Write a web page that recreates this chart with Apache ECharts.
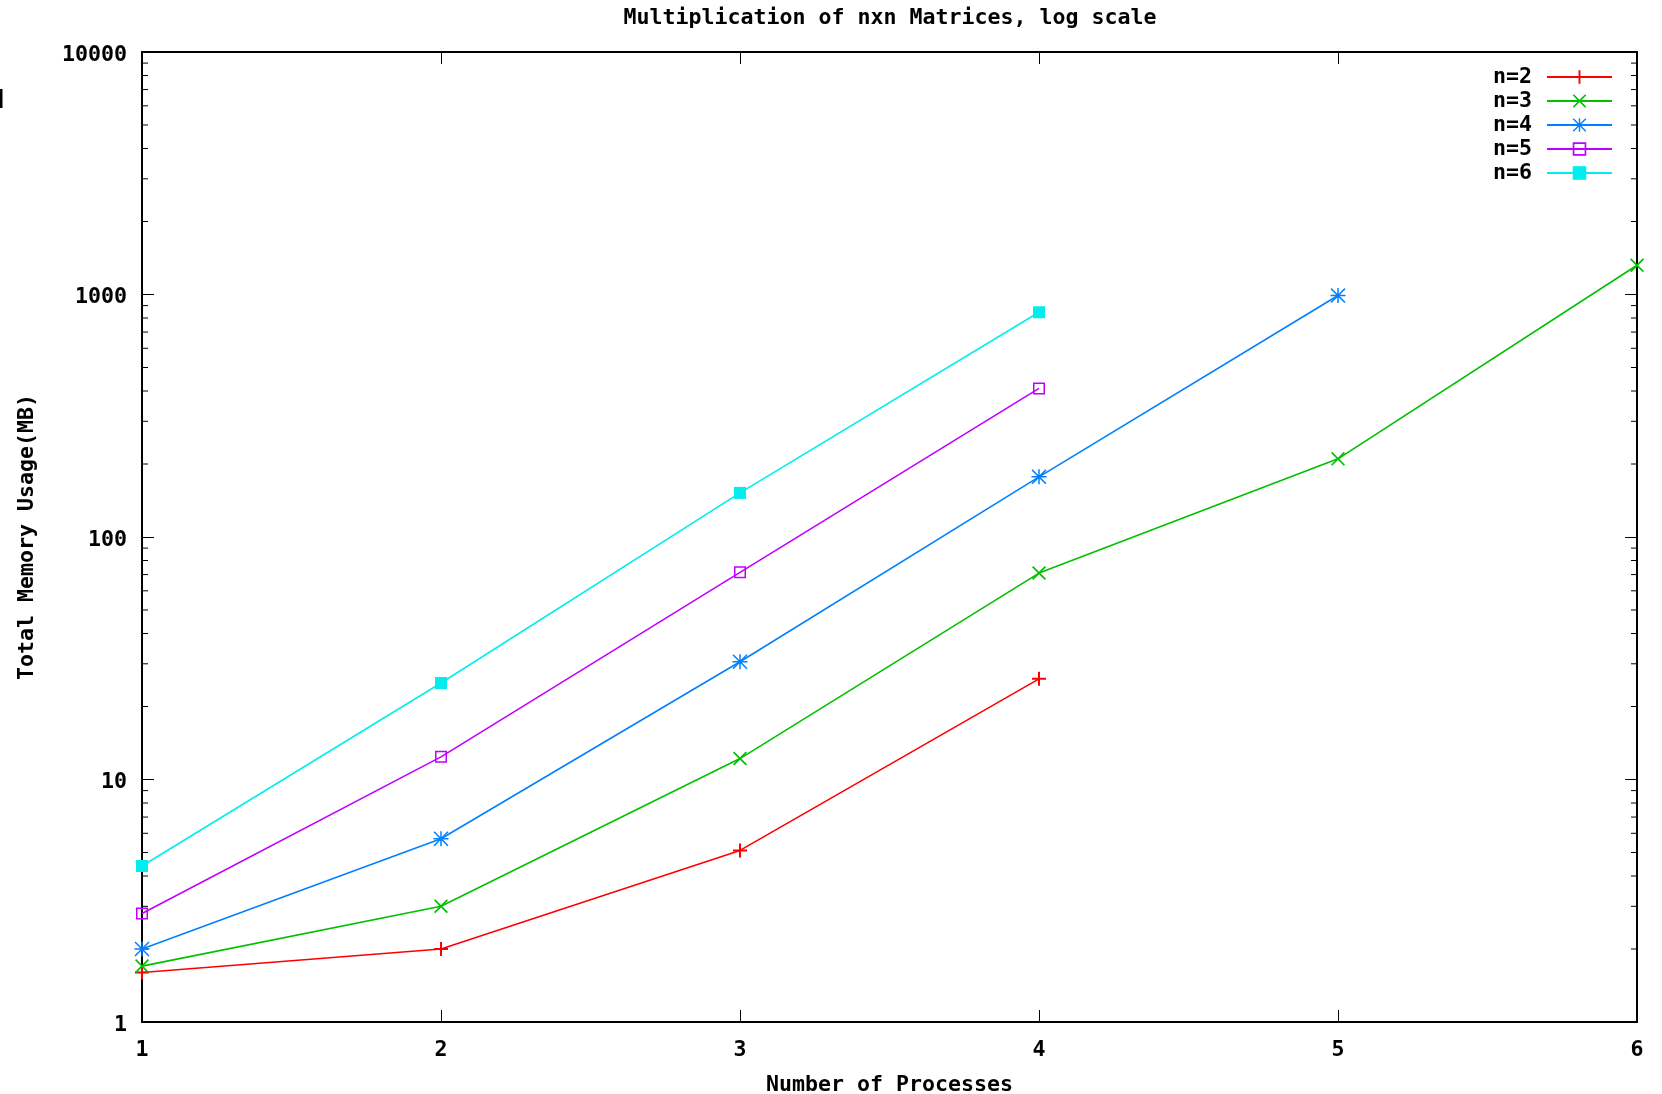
<!DOCTYPE html>
<html>
<head>
<meta charset="utf-8">
<script src="https://cdn.jsdelivr.net/npm/echarts@6/dist/echarts.min.js"></script>
<style>
    html, body { margin: 0; padding: 0; background: #fff; }
    #chart { width: 1662px; height: 1094px; }
</style>
</head>
<body>
<div id="chart"></div>
<script>
    // data
    var processes = [1, 2, 3, 4, 5, 6];
    var seriesNames = ['n=2', 'n=3', 'n=4', 'n=5', 'n=6'];
    var memN2 = [1.6, 2.0, 5.1, 26];
    var memN3 = [1.7, 3.0, 12.2, 71, 210, 1320];
    var memN4 = [2.0, 5.7, 30.6, 177, 990];
    var memN5 = [2.8, 12.4, 71.5, 410];
    var memN6 = [4.4, 25, 152, 845];
    var yTicks = [1, 10, 100, 1000, 10000];

    var colors = ['#ff0000', '#00c000', '#0080ff', '#c000ff', '#00eeee'];
    var font = 'DejaVu Sans Mono';
    var fontSize = 21.6;

    // gnuplot style point shapes
    var symPlus = 'path://M6,0H8V6H14V8H8V14H6V8H0V6H6Z';
    var symCross = 'path://M0,1.2L1.2,0L7,5.8L12.8,0L14,1.2L8.2,7L14,12.8L12.8,14L7,8.2L1.2,14L0,12.8L5.8,7Z';
    var symStar = 'path://M6.3,0H7.7V6.3H14V7.7H7.7V14H6.3V7.7H0V6.3H6.3Z' +
        'M1,0L7,6L13,0L14,1L8,7L14,13L13,14L7,8L1,14L0,13L6,7L0,1Z';
    var symBox = 'path://M0,0H12V12H0Z M1.5,1.5V10.5H10.5V1.5Z';
    var symFilled = 'rect';
    var symbols = [symPlus, symCross, symStar, symBox, symFilled];
    var symbolSizes = [14, 14, 15, 12, 12];

    function pairs(values) {
        var out = [];
        for (var i = 0; i < values.length; i++) {
            out.push([processes[i], values[i]]);
        }
        return out;
    }

    // minor log ticks 2..9 of each decade
    var minorTicks = [];
    for (var d = 0; d < yTicks.length - 1; d++) {
        for (var m = 2; m <= 9; m++) {
            minorTicks.push([processes[0], m * yTicks[d]]);
        }
    }

    var allValues = [memN2, memN3, memN4, memN5, memN6];
    var series = allValues.map(function(vals, i) {
        return {
            name: seriesNames[i],
            type: 'line',
            data: pairs(vals),
            symbol: symbols[i],
            symbolSize: symbolSizes[i],
            showAllSymbol: true,
            color: colors[i],
            lineStyle: { width: 1.6, color: colors[i] },
            itemStyle: { color: colors[i], borderWidth: 0 },
            emphasis: { disabled: true },
            animation: false,
            z: 3
        };
    });

    series.push({
        type: 'custom',
        data: minorTicks,
        silent: true,
        animation: false,
        renderItem: function(params, api) {
            var v = api.value(1);
            var l = api.coord([processes[0], v]);
            var r = api.coord([processes[processes.length - 1], v]);
            var style = { stroke: '#000', lineWidth: 1 };
            return {
                type: 'group',
                children: [
                    { type: 'line', shape: { x1: l[0], y1: l[1], x2: l[0] + 6, y2: l[1] }, style: style },
                    { type: 'line', shape: { x1: r[0], y1: r[1], x2: r[0] - 6, y2: r[1] }, style: style }
                ]
            };
        }
    });

    var axisText = { color: '#000', fontFamily: font, fontWeight: 'bold', fontSize: fontSize };
    var axisLine = { show: true, onZero: false, lineStyle: { color: '#000', width: 2 } };
    var axisTick = { show: true, inside: true, length: 12, lineStyle: { color: '#000', width: 1 } };

    var option = {
        backgroundColor: '#fff',
        animation: false,
        title: {
            text: 'Multiplication of nxn Matrices, log scale',
            left: 885,
            top: 2,
            textAlign: 'center',
            textStyle: { color: '#000', fontFamily: font, fontWeight: 'bold', fontSize: fontSize }
        },
        legend: {
            orient: 'vertical',
            right: 44,
            top: 61,
            align: 'right',
            itemWidth: 65,
            itemHeight: 17,
            itemGap: 2,
            data: seriesNames,
            textStyle: {
                color: '#000', fontFamily: font, fontWeight: 'bold', fontSize: fontSize,
                padding: [0, 10, 0, 0]
            }
        },
        grid: {
            left: 142, right: 25, top: 52, bottom: 72,
            containLabel: false,
            outerBoundsMode: 'none'
        },
        xAxis: [{
            type: 'value',
            min: 1,
            max: 6,
            interval: 1,
            name: 'Number of Processes',
            nameLocation: 'middle',
            nameGap: 52,
            nameTextStyle: axisText,
            axisLine: axisLine,
            axisTick: axisTick,
            axisLabel: Object.assign({ margin: 17 }, axisText),
            splitLine: { show: false }
        }, {
            type: 'value',
            position: 'top',
            min: 1,
            max: 6,
            interval: 1,
            axisLine: axisLine,
            axisTick: axisTick,
            axisLabel: { show: false },
            splitLine: { show: false }
        }],
        yAxis: [{
            type: 'log',
            logBase: 10,
            min: 1,
            max: 10000,
            name: 'Total Memory Usage(MB)',
            nameLocation: 'middle',
            nameGap: 104,
            nameRotate: 90,
            nameTextStyle: axisText,
            axisLine: axisLine,
            axisTick: axisTick,
            axisLabel: Object.assign({
                margin: 15,
                formatter: function(v) { return '{t|' + Math.round(v) + '}'; },
                rich: {
                    t: Object.assign({ padding: [6, 0, 0, 0] }, axisText)
                }
            }, axisText),
            splitLine: { show: false }
        }, {
            type: 'log',
            logBase: 10,
            min: 1,
            max: 10000,
            position: 'right',
            axisLine: axisLine,
            axisTick: axisTick,
            axisLabel: { show: false },
            splitLine: { show: false }
        }],
        graphic: [{
            type: 'rect',
            shape: { x: 0, y: 89, width: 2.5, height: 19 },
            style: { fill: '#000' },
            silent: true
        }],
        series: series
    };

    var chart = echarts.init(document.getElementById('chart'), null, { renderer: 'canvas' });
    chart.setOption(option);
</script>
</body>
</html>
